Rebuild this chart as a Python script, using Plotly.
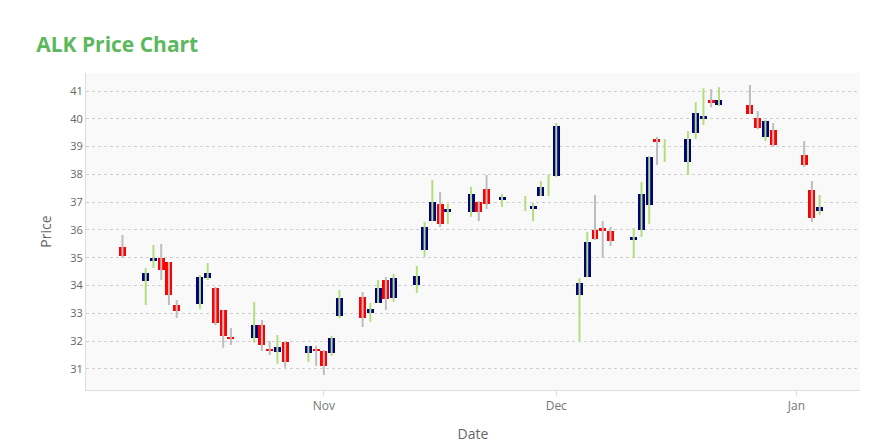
import plotly.graph_objects as go

# ALK daily prices
dates = ["2023-10-06", "2023-10-09", "2023-10-10", "2023-10-11", "2023-10-12", "2023-10-13",
         "2023-10-16", "2023-10-17", "2023-10-18", "2023-10-19", "2023-10-20",
         "2023-10-23", "2023-10-24", "2023-10-25", "2023-10-26", "2023-10-27",
         "2023-10-30", "2023-10-31", "2023-11-01", "2023-11-02", "2023-11-03",
         "2023-11-06", "2023-11-07", "2023-11-08", "2023-11-09", "2023-11-10",
         "2023-11-13", "2023-11-14", "2023-11-15", "2023-11-16", "2023-11-17",
         "2023-11-20", "2023-11-21", "2023-11-22", "2023-11-24",
         "2023-11-27", "2023-11-28", "2023-11-29", "2023-11-30", "2023-12-01",
         "2023-12-04", "2023-12-05", "2023-12-06", "2023-12-07", "2023-12-08",
         "2023-12-11", "2023-12-12", "2023-12-13", "2023-12-14", "2023-12-15",
         "2023-12-18", "2023-12-19", "2023-12-20", "2023-12-21", "2023-12-22",
         "2023-12-26", "2023-12-27", "2023-12-28", "2023-12-29",
         "2024-01-02", "2024-01-03", "2024-01-04"]
opens = [35.39, 34.17, 34.90, 34.99, 34.85, 33.30,
         33.34, 34.27, 33.91, 33.12, 32.09,
         32.12, 32.58, 31.72, 31.61, 31.97,
         31.58, 31.72, 31.65, 31.58, 32.91,
         33.59, 33.01, 33.37, 34.20, 33.55,
         34.02, 35.28, 36.32, 36.94, 36.65,
         36.65, 37.00, 37.47, 37.08,
         None, 36.76, 37.22, None, 37.94,
         33.66, 34.31, 36.00, 36.00, 35.96,
         35.64, 36.00, 36.90, 39.22, None,
         38.45, 39.49, 39.99, 40.68, 40.50,
         40.50, 40.03, 39.35, 39.60,
         38.70, 37.44, 36.68]
closes = [35.06, 34.45, 34.93, 34.56, 33.66, 33.09,
          34.31, 34.45, 32.65, 32.19, 32.06,
          32.58, 31.86, 31.65, 31.79, 31.25,
          31.83, 31.65, 31.11, 32.12, 33.55,
          32.83, 33.16, 33.91, 33.52, 34.27,
          34.35, 36.11, 37.00, 36.22, 36.76,
          37.30, 36.65, 36.94, 37.19,
          None, 36.87, 37.55, None, 39.74,
          34.09, 35.57, 35.68, 35.98, 35.60,
          35.75, 37.30, 38.63, 39.18, None,
          39.27, 40.21, 40.10, 40.57, 40.68,
          40.17, 39.67, 39.92, 39.06,
          38.34, 36.43, 36.83]
highs = [35.82, 34.63, 35.46, 35.50, 34.85, 33.48,
         34.38, 34.81, 33.95, 33.12, 32.47,
         33.41, 32.76, 32.00, 32.22, 31.97,
         31.83, 31.83, 31.68, 32.19, 33.84,
         33.77, 33.37, 34.20, 34.31, 34.42,
         34.70, 36.29, 37.80, 37.37, 36.94,
         37.55, 37.04, 37.98, 37.30,
         37.22, 36.97, 37.76, 37.98, 39.85,
         34.27, 35.93, 37.26, 36.32, 36.11,
         36.07, 37.73, 38.66, 39.35, 39.27,
         39.56, 40.60, 41.10, 41.07, 41.14,
         41.22, 40.28, 39.96, 39.85,
         39.20, 37.76, 37.26]
lows = [34.99, 33.30, 34.63, 34.20, 33.30, 32.83,
        33.16, 34.20, 32.58, 31.76, 31.86,
        31.94, 31.65, 31.50, 31.18, 31.04,
        31.25, 31.11, 30.78, 31.47, 32.83,
        32.51, 32.69, 33.37, 33.12, 33.41,
        33.73, 35.03, 36.32, 36.11, 36.22,
        36.47, 36.32, 36.76, 36.83,
        36.68, 36.32, 37.22, 37.22, 37.91,
        32.01, 34.31, 35.64, 34.99, 35.42,
        34.99, 35.75, 36.22, 38.34, 38.45,
        37.98, 39.27, 39.78, 40.42, 40.46,
        40.17, 39.63, 39.20, 38.99,
        38.27, 36.29, 36.54]

NAVY, RED = "#000080", "#ff0000"
GREEN_WICK, GRAY_WICK = "#b3de7c", "#bdbdbd"

fig = go.Figure()

# wicks, split by up/down days
for up, color in [(True, GREEN_WICK), (False, GRAY_WICK)]:
    wx, wy = [], []
    for d, o, c, h, l in zip(dates, opens, closes, highs, lows):
        is_up = o is None or c >= o
        if is_up == up:
            wx += [d, d, None]
            wy += [l, h, None]
    fig.add_trace(go.Scatter(x=wx, y=wy, mode="lines", line=dict(color=color, width=2),
                             hoverinfo="skip", showlegend=False))

# bodies
bx, base, height, colors = [], [], [], []
for d, o, c in zip(dates, opens, closes):
    if o is None:
        continue
    bx.append(d)
    base.append(min(o, c))
    height.append(max(abs(c - o), 0.08))
    colors.append(NAVY if c >= o else RED)
fig.add_trace(go.Bar(x=bx, y=height, base=base, marker=dict(color=colors, line=dict(width=0)),
                     width=0.9 * 86400000, showlegend=False))

fig.update_layout(
    width=880, height=440,
    margin=dict(l=78, r=28, t=65, b=58),
    paper_bgcolor="white", plot_bgcolor="#f9f9f9",
    font=dict(family="Open Sans, Arial", color="#666"),
    title=dict(text="<b>ALK Price Chart</b>", x=0.032, y=0.916, xanchor="left", yanchor="middle",
               font=dict(size=21, color="#5cb85c"), automargin=False),
    bargap=0,
)
fig.update_xaxes(type="date", range=["2023-10-01 07:00", "2024-01-09 05:00"], automargin=False,
                 tickvals=["2023-11-01", "2023-12-01", "2024-01-01"], ticktext=["Nov", "Dec", "Jan"],
                 showgrid=False, showline=True, linecolor="#ddd", ticks="outside",
                 tickcolor="#ddd", ticklen=5, tickfont=dict(size=12, color="#777"),
                 title=dict(text="Date", font=dict(size=14, color="#666")))
fig.update_yaxes(range=[30.24, 41.65], dtick=1, showgrid=True, gridcolor="#cfcfcf", griddash="dot",
                 zeroline=False, showline=True, linecolor="#ddd", automargin=False,
                 tickfont=dict(size=11, color="#666"),
                 title=dict(text="Price", font=dict(size=14, color="#666")))

fig.write_html("out.html")
